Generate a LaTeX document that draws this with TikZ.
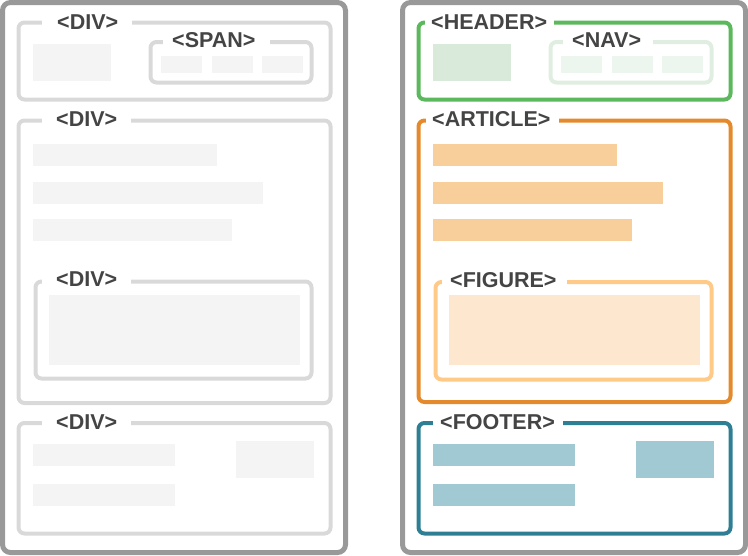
\documentclass[tikz,border=0pt]{standalone}
\usepackage{fontspec}
\setmainfont{Liberation Sans}
\definecolor{outerg}{HTML}{999999}
\definecolor{innerg}{HTML}{D9D9D9}
\definecolor{fillg}{HTML}{F4F4F4}
\definecolor{txt}{HTML}{444444}
\definecolor{grn}{HTML}{5CB85C}
\definecolor{grnfill}{HTML}{D9EADB}
\definecolor{navb}{HTML}{DFEEE0}
\definecolor{navfill}{HTML}{EDF6EE}
\definecolor{org}{HTML}{E58A2C}
\definecolor{orgbar}{HTML}{F8CF9B}
\definecolor{figb}{HTML}{FFC987}
\definecolor{figfill}{HTML}{FDE7CF}
\definecolor{teal}{HTML}{2E7F93}
\definecolor{tealbar}{HTML}{A0C9D3}
\tikzset{
  outerbox/.style={draw=outerg, line width=5pt, rounded corners=8pt},
  innerbox/.style={line width=4pt, rounded corners=6pt},
  gapbox/.style={fill=white, draw=none},
  tag/.style={anchor=base west, inner sep=0pt, text=txt, font=\fontsize{21.5pt}{21.5pt}\selectfont\bfseries},
  blk/.style={draw=none}
}
\begin{document}
\begin{tikzpicture}[x=1pt,y=-1pt]
\useasboundingbox (0,0) rectangle (748,555);
% outer frames
\draw[outerbox] (2.5,2.5) rectangle (345.5,552.5);
\draw[outerbox] (402.5,2.5) rectangle (745.5,552.5);

% ===== LEFT =====
% DIV 1
\draw[innerbox, draw=innerg] (18.5,22.5) rectangle (330.5,99.5);
\fill[gapbox] (42,18) rectangle (132,27);
\node[tag] (ldiv1) at (57,29) {<DIV>};
\fill[fillg] (33,44) rectangle (111,81);
\draw[innerbox, draw=innerg] (150.5,42) rectangle (311.5,82.5);
\fill[gapbox] (163,37) rectangle (270,47);
\node[tag] (lspan) at (172,47) {<SPAN>};
\fill[fillg] (161,56) rectangle (202,73);
\fill[fillg] (212,56) rectangle (253,73);
\fill[fillg] (262,56) rectangle (303,73);

% DIV 2
\draw[innerbox, draw=innerg] (18.5,120.5) rectangle (330.5,403);
\fill[gapbox] (42,116) rectangle (131,125);
\node[tag] (ldiv2) at (56,126) {<DIV>};
\fill[fillg] (33,144) rectangle (217,166);
\fill[fillg] (33,182) rectangle (263,204);
\fill[fillg] (33,219) rectangle (232,241);
% DIV 3
\draw[innerbox, draw=innerg] (35.5,281.5) rectangle (311.5,378.5);
\fill[gapbox] (42,277) rectangle (131,286);
\node[tag] (ldiv3) at (56,286) {<DIV>};
\fill[fillg] (49,295) rectangle (300,365);

% DIV 4
\draw[innerbox, draw=innerg] (18.5,423) rectangle (330.5,533.5);
\fill[gapbox] (42,418) rectangle (131,428);
\node[tag] (ldiv4) at (56,429) {<DIV>};
\fill[fillg] (33,444) rectangle (175,466);
\fill[fillg] (33,484) rectangle (175,506);
\fill[fillg] (236,441) rectangle (314,478);

% ===== RIGHT =====
% HEADER
\draw[innerbox, draw=grn] (418.5,22.5) rectangle (730.5,99.5);
\fill[gapbox] (425,18) rectangle (554,27);
\node[tag] (rheader) at (431,29) {<HEADER>};
\fill[grnfill] (433,44) rectangle (511,81);
\draw[innerbox, draw=navb] (550.5,42) rectangle (711.5,82.5);
\fill[gapbox] (563,37) rectangle (653,47);
\node[tag] (rnav) at (572,47) {<NAV>};
\fill[navfill] (561,56) rectangle (602,73);
\fill[navfill] (612,56) rectangle (653,73);
\fill[navfill] (662,56) rectangle (703,73);

% ARTICLE
\draw[innerbox, draw=org] (418.5,120.5) rectangle (730.5,402);
\fill[gapbox] (426,116) rectangle (559,125);
\node[tag] (rarticle) at (432,126) {<ARTICLE>};
\fill[orgbar] (433,144) rectangle (617,166);
\fill[orgbar] (433,182) rectangle (663,204);
\fill[orgbar] (433,219) rectangle (632,241);
% FIGURE
\draw[innerbox, draw=figb] (435.5,282) rectangle (711.5,379.5);
\fill[gapbox] (442,277) rectangle (567,287);
\node[tag] (rfigure) at (450,287) {<FIGURE>};
\fill[figfill] (449,295) rectangle (700,365);

% FOOTER
\draw[innerbox, draw=teal] (418.5,423) rectangle (730.5,533.5);
\fill[gapbox] (433,418) rectangle (563,428);
\node[tag] (rfooter) at (440,429) {<FOOTER>};
\fill[tealbar] (433,444) rectangle (575,466);
\fill[tealbar] (433,484) rectangle (575,506);
\fill[tealbar] (636,441) rectangle (714,478);
\end{tikzpicture}
\end{document}
